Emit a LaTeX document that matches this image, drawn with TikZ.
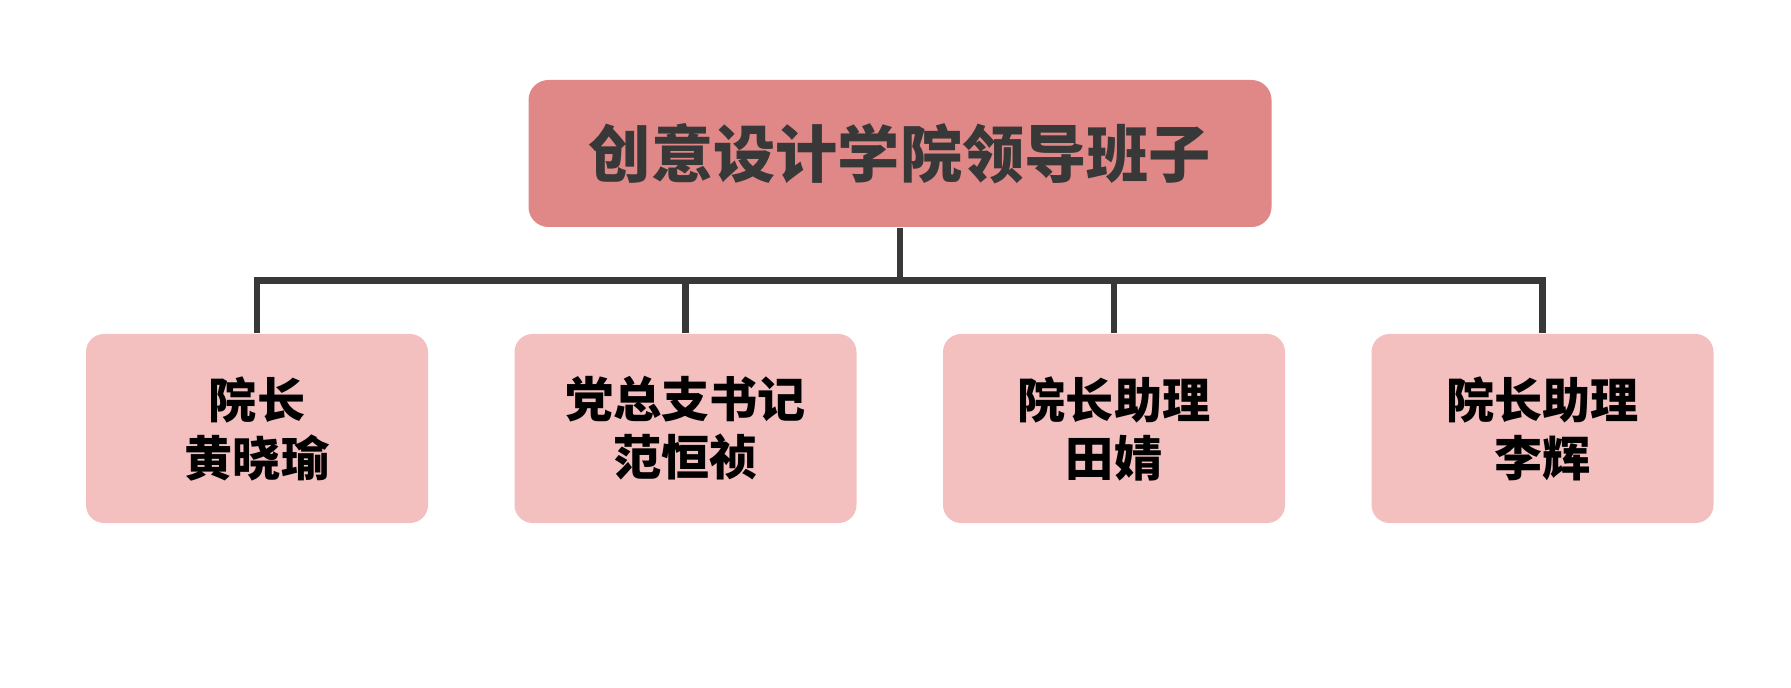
\documentclass[tikz,border=0pt]{standalone}
\usepackage{fontspec}
\newfontfamily\cjk{Noto Sans CJK SC}
\usetikzlibrary{positioning}
\definecolor{headfill}{HTML}{E08787}
\definecolor{memberfill}{HTML}{F3BFBF}
\definecolor{wiregray}{HTML}{383838}

\begin{document}
\begin{tikzpicture}[node distance=4.285cm,
                    head node/.style={rectangle, rounded corners=0.2cm, fill=headfill, text=wiregray,
                      minimum width=7.43cm, minimum height=1.47cm,
                      font=\cjk\bfseries\fontsize{17.7pt}{20pt}\selectfont},
                    member node/.style={rectangle, rounded corners=0.18cm, fill=memberfill, text=black,
                      minimum width=3.42cm, minimum height=1.89cm, align=center,
                      font=\cjk\bfseries\fontsize{13.7pt}{16.5pt}\selectfont},
                    wire/.style={draw=wiregray, line width=1.9pt}]
  \useasboundingbox (0,0) rectangle (17.91,6.87);

  \node[head node] (head) at (9.0,5.335) {创意设计学院领导班子};
  \node[member node] (1) at (2.57,2.585) {院长\\黄晓瑜};
  \node[member node] (2) [right of=1] {党总支书记\\范恒祯};
  \node[member node] (3) [right of=2] {院长助理\\田婧};
  \node[member node] (4) [right of=3] {院长助理\\李辉};

  \coordinate[below=0.53cm of head.south] (bus);

  \draw[wire] (1.north) |- (bus) -| (4.north);
  \draw[wire]
    (head.south) -- (bus)
    (bus) -| (2.north)
    (bus) -| (3.north);
\end{tikzpicture}
\end{document}
